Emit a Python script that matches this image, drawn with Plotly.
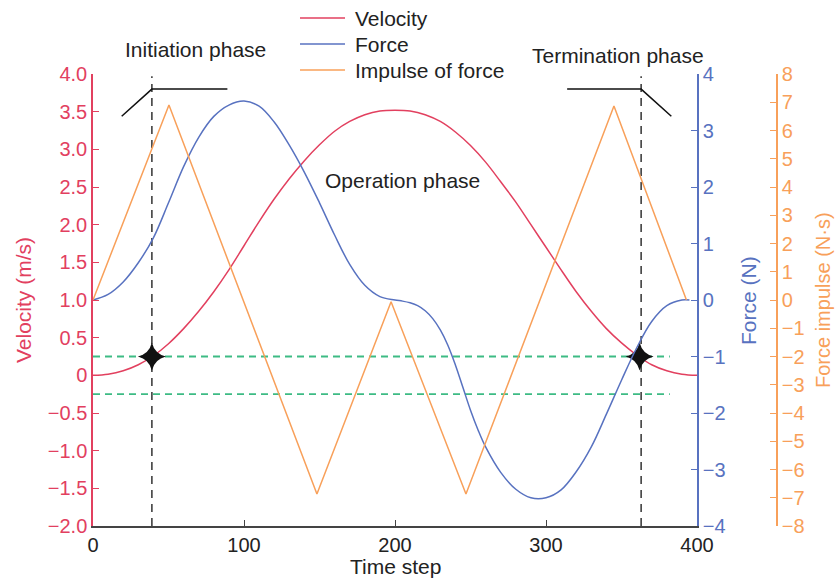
import plotly.graph_objects as go

# ---------------- data ----------------
time_step = [0, 10, 20, 30, 40, 50, 60, 70, 80, 90, 100, 110, 120, 130, 140, 150, 160, 170, 180, 190, 200,
             210, 220, 230, 240, 250, 260, 270, 280, 290, 300, 310, 320, 330, 340, 350, 360, 370, 380, 390, 400]
velocity = [0, 0.015, 0.06, 0.14, 0.26, 0.42, 0.62, 0.85, 1.11, 1.40, 1.72, 2.04, 2.34, 2.61, 2.85, 3.06, 3.24, 3.37, 3.46, 3.51, 3.52,
            3.51, 3.46, 3.37, 3.23, 3.05, 2.83, 2.57, 2.30, 2.00, 1.70, 1.40, 1.11, 0.85, 0.62, 0.43, 0.27, 0.14, 0.06, 0.015, 0]

force_t = [0, 10, 20, 30, 40, 50, 60, 70, 80, 90, 100, 110, 120, 130, 140, 150, 160, 170, 180, 190, 200,
           205, 210, 215, 220, 225, 230, 235, 240, 245, 250, 255, 260, 270, 280, 290, 300, 310, 320, 330, 340,
           350, 360, 370, 380, 390, 395]
force = [0, 0.10, 0.32, 0.66, 1.10, 1.72, 2.36, 2.88, 3.25, 3.45, 3.52, 3.43, 3.15, 2.74, 2.26, 1.72, 1.15, 0.63, 0.26, 0.06, 0,
         -0.02, -0.05, -0.10, -0.19, -0.33, -0.53, -0.80, -1.15, -1.55, -1.95, -2.30, -2.60, -3.05, -3.35, -3.50, -3.50,
         -3.36, -3.04, -2.60, -2.02, -1.42, -0.85, -0.38, -0.10, 0, 0]

impulse_t = [0, 50.3, 148.3, 197.4, 247, 345, 393]
impulse = [0, 6.9, -6.87, -0.06, -6.87, 6.87, 0]

threshold_levels = [0.25, -0.25]
threshold_span = [0, 382]
phase_boundaries = [39, 363]
boundary_span = [-2, 3.97]
star_points_t = [39, 362]
star_points_v = [0.25, 0.25]
init_bracket_t = [19, 39, 89]
init_bracket_v = [3.44, 3.80, 3.80]
term_bracket_t = [314, 363, 383]
term_bracket_v = [3.80, 3.80, 3.44]

x_ticks = [0, 100, 200, 300, 400]
vel_ticks = [4.0, 3.5, 3.0, 2.5, 2.0, 1.5, 1.0, 0.5, 0, -0.5, -1.0, -1.5, -2.0]
vel_ticktext = ["4.0", "3.5", "3.0", "2.5", "2.0", "1.5", "1.0", "0.5", "0", "\u22120.5", "\u22121.0", "\u22121.5", "\u22122.0"]
force_ticks = [4, 3, 2, 1, 0, -1, -2, -3, -4]
imp_ticks = [8, 7, 6, 5, 4, 3, 2, 1, 0, -1, -2, -3, -4, -5, -6, -7, -8]

legend_names = ["Velocity", "Force", "Impulse of force"]

# ---------------- style ----------------
RED = "#E2405F"
BLUE = "#5872C0"
ORANGE = "#F8A05A"
GREEN = "#3DBB84"
DARK = "#222222"
FONT = "Liberation Sans, Arial, sans-serif"
series_colors = [RED, BLUE, ORANGE]

W, H = 837, 579
ML, MR, MT, MB = 93, 10, 74, 53
PW = W - ML - MR
PH = H - MT - MB
xdom_end = (697 - ML) / PW
imp_pos = (777 - ML) / PW

def px_x(x):
    return (x - ML) / PW

def px_y(y):
    return (H - MB - y) / PH

fig = go.Figure()

fig.add_trace(go.Scatter(x=time_step, y=velocity, name=legend_names[0], mode="lines",
                         line=dict(color=RED, width=1.5, shape="spline", smoothing=1.0), yaxis="y"))
fig.add_trace(go.Scatter(x=force_t, y=force, name=legend_names[1], mode="lines",
                         line=dict(color=BLUE, width=1.5, shape="spline", smoothing=1.0), yaxis="y2"))
fig.add_trace(go.Scatter(x=impulse_t, y=impulse, name=legend_names[2], mode="lines",
                         line=dict(color=ORANGE, width=1.5), yaxis="y3"))

for lv in threshold_levels:
    fig.add_trace(go.Scatter(x=threshold_span, y=[lv, lv], mode="lines", showlegend=False,
                             line=dict(color=GREEN, width=1.8, dash="7px,5px"), yaxis="y", hoverinfo="skip"))
for tb in phase_boundaries:
    fig.add_trace(go.Scatter(x=[tb, tb], y=boundary_span, mode="lines", showlegend=False,
                             line=dict(color="#333333", width=1.5, dash="8px,6px"), yaxis="y", hoverinfo="skip"))
fig.add_trace(go.Scatter(x=init_bracket_t, y=init_bracket_v, mode="lines", showlegend=False,
                         line=dict(color="#111111", width=1.5), yaxis="y", hoverinfo="skip"))
fig.add_trace(go.Scatter(x=term_bracket_t, y=term_bracket_v, mode="lines", showlegend=False,
                         line=dict(color="#111111", width=1.5), yaxis="y", hoverinfo="skip"))
fig.add_trace(go.Scatter(x=star_points_t, y=star_points_v, mode="markers", showlegend=False,
                         marker=dict(symbol="star-diamond", size=20, color="#111111", line=dict(width=0)),
                         yaxis="y", cliponaxis=False))

tickfont = lambda c: dict(family=FONT, size=20, color=c)

fig.update_layout(
    width=W, height=H,
    margin=dict(l=ML, r=MR, t=MT, b=MB, autoexpand=False),
    plot_bgcolor="white", paper_bgcolor="white",
    font=dict(family=FONT, size=20, color=DARK),
    showlegend=False,
    xaxis=dict(domain=[0, xdom_end], range=[0, 400], tickvals=x_ticks, ticks="inside", ticklen=6,
               tickcolor="#444444", showline=True, linecolor="#444444", linewidth=1.5,
               showgrid=False, zeroline=False, tickfont=tickfont(DARK)),
    yaxis=dict(range=[-2, 4], tickvals=vel_ticks, ticktext=vel_ticktext, ticks="inside", ticklen=6,
               tickcolor=RED, showline=True, linecolor=RED, linewidth=1.5,
               showgrid=False, zeroline=False, tickfont=tickfont(RED)),
    yaxis2=dict(range=[-4, 4], tickvals=force_ticks, overlaying="y", side="right", anchor="x",
                ticks="inside", ticklen=6, tickcolor=BLUE, showline=True, linecolor=BLUE, linewidth=1.5,
                showgrid=False, zeroline=False, tickfont=tickfont(BLUE)),
    yaxis3=dict(range=[-8, 8], tickvals=imp_ticks, overlaying="y", side="right", anchor="free",
                position=imp_pos, ticks="inside", ticklen=6, tickcolor=ORANGE, showline=True,
                linecolor=ORANGE, linewidth=1.5, showgrid=False, zeroline=False, tickfont=tickfont(ORANGE)),
)

# manual legend (key lines + labels)
legend_rows_y = [18, 44, 70]
for name, col, ry in zip(legend_names, series_colors, legend_rows_y):
    fig.add_shape(type="line", xref="paper", yref="paper", x0=px_x(300), x1=px_x(345),
                  y0=px_y(ry), y1=px_y(ry), line=dict(color=col, width=1.5))
    fig.add_annotation(text=name, x=px_x(353), y=px_y(ry), xref="paper", yref="paper", showarrow=False,
                       xanchor="left", yanchor="middle", font=dict(family=FONT, size=21, color=DARK))

def ann(text, x, y, size=21, color=DARK, angle=0):
    fig.add_annotation(text=text, x=px_x(x), y=px_y(y), xref="paper", yref="paper",
                       showarrow=False, textangle=angle, xanchor="center", yanchor="middle",
                       font=dict(family=FONT, size=size, color=color))

ann("Initiation phase", 195, 49)
ann("Termination phase", 618, 55)
ann("Operation phase", 402, 180)
ann("Time step", 395, 566)
ann("Velocity (m/s)", 23, 300, color=RED, angle=-90)
ann("Force (N)", 748, 301, color=BLUE, angle=-90)
ann("Force impulse (N\u00b7s)", 823, 300, size=20, color=ORANGE, angle=-90)

fig.write_html("out.html")
